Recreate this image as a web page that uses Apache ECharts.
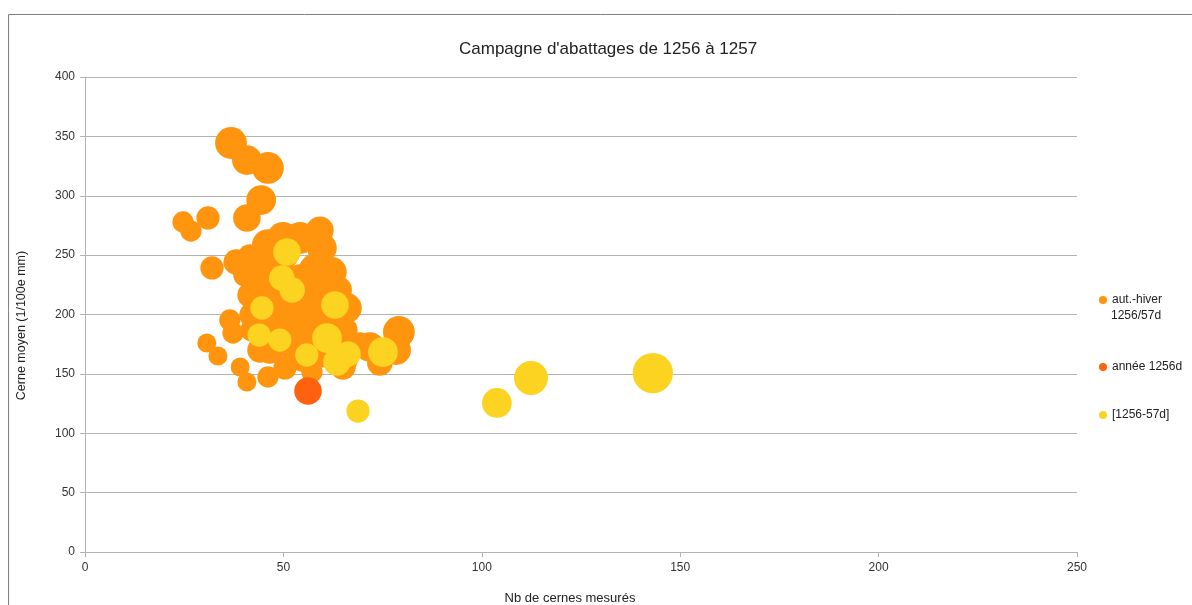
<!DOCTYPE html>
<html>
<head>
<meta charset="utf-8">
<script src="https://cdn.jsdelivr.net/npm/echarts@6/dist/echarts.min.js"></script>
<style>
  html, body { margin: 0; padding: 0; background: #fff; }
  #chart { width: 1192px; height: 605px; }
</style>
</head>
<body>
<div id="chart"></div>
<script>
// [nb de cernes, cerne moyen, poids de la bulle]
const autHiver = [
  [36.8, 344.4, 56], [40.8, 330.1, 49], [46.1, 323.4, 56], [44.4, 296.4, 49],
  [40.8, 281.3, 42], [24.7, 277.9, 25], [31.0, 281.3, 30], [26.7, 270.3, 25],
  [32.0, 239.2, 30], [38.1, 244.2, 36], [41.6, 248.4, 36], [46.1, 258.5, 56],
  [49.9, 264.4, 56], [54.2, 264.4, 56], [59.7, 256.0, 49], [62.2, 235.8, 49],
  [63.8, 220.6, 42], [66.0, 205.5, 49], [65.5, 186.9, 36], [65.5, 161.7, 36],
  [71.8, 172.6, 49], [74.3, 159.2, 36], [79.1, 185.3, 56], [78.4, 170.1, 49],
  [36.5, 195.4, 25], [37.3, 184.4, 25], [30.7, 176.0, 20], [33.5, 165.0, 20],
  [39.1, 155.8, 20], [40.8, 143.2, 20], [46.1, 147.4, 25], [50.4, 155.0, 30],
  [54.7, 161.7, 30], [57.2, 151.6, 25], [65.0, 155.8, 36], [44.1, 220.6, 42],
  [47.9, 212.2, 49], [54.2, 229.0, 56], [57.9, 237.5, 56], [56.7, 212.2, 56],
  [59.2, 195.4, 49], [54.2, 195.4, 49], [49.1, 195.4, 42], [46.6, 170.1, 42],
  [51.7, 174.3, 42], [56.7, 178.5, 42], [44.1, 170.1, 36], [42.1, 199.6, 36],
  [45.4, 237.5, 36], [40.3, 233.3, 30], [60.5, 220.6, 42], [61.8, 195.4, 42],
  [61.8, 174.3, 36], [69.3, 174.3, 36], [59.2, 271.0, 42], [50.4, 250.1, 42],
  [41.6, 216.4, 36], [46.6, 191.2, 42], [51.7, 187.0, 42], [59.2, 165.9, 36],
  [50.4, 212.2, 49], [42.1, 187.0, 30], [63.8, 186.9, 36]
];
const annee1256 = [
  [56.2, 135.6, 42]
];
const interval1256 = [
  [50.9, 252.6, 42], [49.6, 230.7, 36], [52.2, 220.6, 36], [44.6, 205.5, 30],
  [63.0, 208.0, 42], [43.9, 182.7, 30], [49.1, 178.5, 30], [55.9, 165.9, 30],
  [61.0, 180.2, 49], [63.5, 160.0, 42], [66.3, 166.7, 36], [75.1, 168.4, 49],
  [68.8, 118.7, 30], [103.8, 125.5, 49], [112.4, 146.5, 64], [143.1, 150.7, 90]
];
const seriesNames = ['aut.-hiver 1256/57d', 'année 1256d', '[1256-57d]'];
const colors = ['#ff950e', '#ff620e', '#fdd321'];

const chart = echarts.init(document.getElementById('chart'));
const bubbleSize = d => Math.sqrt(d[2]) * 4.25;
const font = 'Liberation Sans, Arial, sans-serif';

const legendBase = {
  orient: 'vertical', left: 1094, icon: 'circle', itemWidth: 8, itemHeight: 8,
  itemGap: 5, textStyle: { fontFamily: font, fontSize: 12, color: '#222' }
};

chart.setOption({
  animation: false,
  graphic: [
    {
      type: 'rect', silent: true,
      shape: { x: 8.5, y: 14.5, width: 1200, height: 620 },
      style: { fill: 'none', stroke: '#808080', lineWidth: 1 }
    },
    {
      // second line of the first legend label
      type: 'text', silent: true, left: 1111, top: 310,
      style: { text: '1256/57d', font: '12px ' + font, fill: '#222' }
    }
  ],
  title: {
    text: "Campagne d'abattages de 1256 à 1257",
    left: 454, top: 36,
    textStyle: { fontFamily: font, fontSize: 17, fontWeight: 'normal', color: '#222' }
  },
  legend: [
    Object.assign({}, legendBase, { top: 289, data: [seriesNames[0]], formatter: () => 'aut.-hiver' }),
    Object.assign({}, legendBase, { top: 356, data: [seriesNames[1]] }),
    Object.assign({}, legendBase, { top: 404, data: [seriesNames[2]] })
  ],
  grid: { left: 85, right: 115, top: 77, bottom: 53, outerBoundsMode: 'none' },
  xAxis: {
    type: 'value', min: 0, max: 250, interval: 50,
    name: 'Nb de cernes mesurés', nameLocation: 'middle', nameGap: 40,
    nameTextStyle: { fontFamily: font, fontSize: 13, color: '#222', padding: [0, 22, 0, 0] },
    axisLine: { show: true, lineStyle: { color: '#b3b3b3' } },
    axisTick: { show: true, length: 5, lineStyle: { color: '#b3b3b3' } },
    axisLabel: { fontFamily: font, fontSize: 12, color: '#333', margin: 10 },
    splitLine: { show: false }
  },
  yAxis: {
    type: 'value', min: 0, max: 400, interval: 50,
    name: 'Cerne moyen (1/100e mm)', nameLocation: 'middle', nameGap: 57,
    nameTextStyle: { fontFamily: font, fontSize: 12.5, color: '#222', padding: [0, 22, 0, 0] },
    axisLine: { show: true, lineStyle: { color: '#b3b3b3' } },
    axisTick: { show: true, length: 5, lineStyle: { color: '#b3b3b3' } },
    axisLabel: { fontFamily: font, fontSize: 12, color: '#333', margin: 10 },
    splitLine: { show: true, lineStyle: { color: '#b3b3b3', width: 1 } }
  },
  series: [
    { name: seriesNames[0], type: 'scatter', data: autHiver, symbolSize: bubbleSize,
      itemStyle: { color: colors[0], opacity: 1 } },
    { name: seriesNames[1], type: 'scatter', data: annee1256, symbolSize: bubbleSize,
      itemStyle: { color: colors[1], opacity: 1 } },
    { name: seriesNames[2], type: 'scatter', data: interval1256, symbolSize: bubbleSize,
      itemStyle: { color: colors[2], opacity: 1 } }
  ]
});
</script>
</body>
</html>
